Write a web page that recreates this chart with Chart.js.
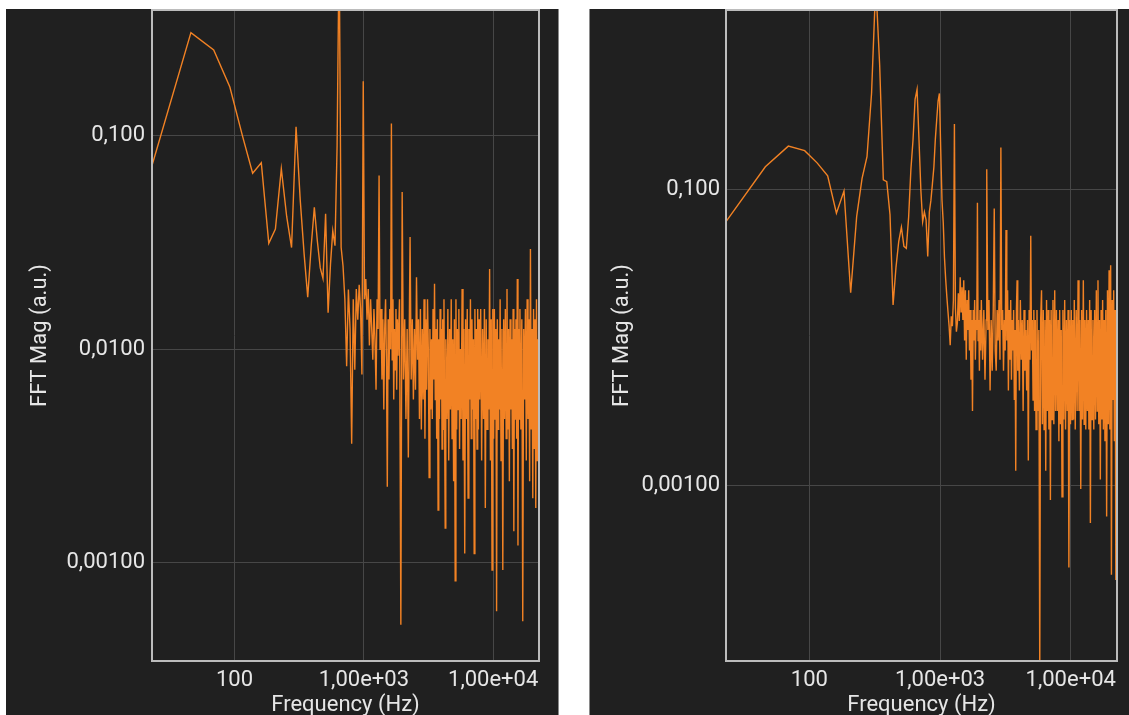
<!DOCTYPE html>
<html>
<head>
<meta charset="utf-8">
<script src="https://cdn.jsdelivr.net/npm/chart.js@4.4.1/dist/chart.umd.min.js"></script>
<style>
  html, body { margin:0; padding:0; background:#ffffff; }
  body { width:1129px; height:715px; position:relative; overflow:hidden; }
  .panel { position:absolute; top:9px; height:706px; background:#202020; }
  #p1 { left:6px; width:552px; border-right:1px solid #8a8a8a; }
  #p2 { left:589px; width:539px; border-left:1px solid #8a8a8a; }
  canvas { display:block; }
</style>
</head>
<body>
<div class="panel" id="p1"><canvas id="c1" width="552" height="706"></canvas></div>
<div class="panel" id="p2"><canvas id="c2" width="539" height="706"></canvas></div>
<script>
// FFT bin width (Hz)
const BIN_HZ = 23;

// Tick values and labels
const xTickValues = [100, 1000, 10000];
const xTickLabels = ['100', '1,00e+03', '1,00e+04'];
const leftYTickValues = [0.1, 0.01, 0.001];
const leftYTickLabels = ['0,100', '0,0100', '0,00100'];
const rightYTickValues = [0.1, 0.001];
const rightYTickLabels = ['0,100', '0,00100'];

// Left spectrum: FFT bin indices and magnitudes (a.u.)
const leftBins = [
  1,2,3,4,5,6,7,8,9,10,
  11,12,13,14,15,16,17,18,19,20,
  21,22,23,24,25,26,27,28,29,30,
  31,32,33,34,35,36,37,38,39,40,
  41,42,43,44,45,46,47,48,49,50,
  51,52,53,54,55,56,57,58,59,60,
  61,62,63,64,65,66,67,68,69,70,
  71,72,73,74,75,76,77,78,79,80,
  82,84,86,88,90,92,94,96,98,99,
  101,103,105,107,109,111,113,115,117,119,
  121,123,125,127,129,131,133,135,137,139,
  141,143,145,147,149,151,153,155,157,159,
  161,163,165,167,169,171,173,175,177,179,
  181,183,185,187,191,194,197,200,203,206,
  209,212,215,218,221,224,227,230,233,236,
  239,242,246,250,254,258,262,266,270,274,
  278,282,286,290,294,298,302,306,310,314,
  318,322,326,330,334,338,342,348,354,360,
  366,372,378,384,390,396,402,408,414,420,
  426,432,438,444,450,456,462,468,474,480,
  486,492,500,508,516,524,532,540,548,556,
  564,572,580,588,596,604,612,620,628,636,
  644,652,660,668,676,684,692,700,712,724,
  736,748,760,772,784,796,808,820,832,844,
  856,868,880,892,904,916,928,940,952,964,
  976,983
];
const leftMag = [
  0.0725,0.304,0.252,0.169,0.100,0.0667,0.0746,0.0313,0.0365,0.070,
  0.0418,0.0299,0.110,0.050,0.028,0.0175,0.030,0.0461,0.032,0.024,
  0.0214,0.0430,0.0148,0.025,0.0358,0.0305,0.09,0.8,0.03,0.0245,
  0.0171,0.0083,0.019,0.0124,0.0036,0.0171,0.008,0.0191,0.0137,0.020,
  0.0154,0.0076,0.18,0.0171,0.0213,0.0137,0.0191,0.0104,0.0171,0.0124,
  0.0089,0.0154,0.0111,0.00645,0.0171,0.0124,0.065,0.0099,0.0154,0.0072,
  0.0138,0.0052,0.0124,0.0171,0.0089,0.00226,0.0138,0.0072,0.0154,0.0100,
  0.114,0.0089,0.0171,0.0058,0.0124,0.0080,0.0154,0.00645,0.0138,0.0093,
  0.0171,0.00051,0.0545,0.0072,0.0138,0.0047,0.0124,0.0031,0.0171,0.0335,
  0.0072,0.0138,0.0058,0.0124,0.00645,0.0217,0.0089,0.0138,0.0047,0.0154,
  0.0042,0.0124,0.0058,0.0171,0.0038,0.0138,0.00645,0.0171,0.0100,0.0025,
  0.0124,0.0052,0.0111,0.0047,0.0154,0.0072,0.0202,0.0058,0.0124,0.0038,
  0.0138,0.00176,0.0111,0.0047,0.0154,0.0058,0.0124,0.0034,0.0138,0.0042,
  0.0171,0.0047,0.00145,0.0111,0.0047,0.0154,0.0030,0.0124,0.0052,0.0171,
  0.0038,0.0111,0.0024,0.0138,0.00082,0.0171,0.0042,0.0124,0.0052,0.0154,
  0.0034,0.0100,0.0047,0.0191,0.0030,0.0124,0.0011,0.0138,0.0047,0.0154,
  0.0020,0.0124,0.0058,0.0171,0.0038,0.0138,0.0052,0.0111,0.0011,0.0154,
  0.0047,0.0124,0.0034,0.0154,0.0042,0.0138,0.0058,0.0154,0.0030,0.0124,
  0.0047,0.0154,0.0018,0.0138,0.0042,0.0111,0.0052,0.0237,0.0030,0.0138,
  0.00092,0.0154,0.0038,0.0154,0.0047,0.0124,0.00059,0.0138,0.0042,0.0111,
  0.0052,0.0171,0.0030,0.0124,0.00092,0.0138,0.0047,0.0154,0.0038,0.0191,
  0.0042,0.0124,0.0024,0.0138,0.0052,0.0111,0.0034,0.0154,0.0014,0.0124,
  0.0047,0.0138,0.0038,0.0213,0.0012,0.0124,0.0047,0.0154,0.0042,0.0138,
  0.00053,0.0124,0.0058,0.0154,0.0030,0.0171,0.0047,0.0138,0.0024,0.0294,
  0.0042,0.0124,0.0020,0.0154,0.0034,0.0138,0.0018,0.0171,0.0030,0.0111,
  0.0042,0.00074
];

// Right spectrum: FFT bin indices and magnitudes (a.u.)
const rightBins = [
  1,2,3,4,5,6,7,8,9,10,
  11,12,13,14,15,16,17,18,19,20,
  21,22,23,24,25,26,27,28,29,30,
  31,32,33,34,35,36,37,38,39,40,
  41,42,43,44,45,46,47,48,49,50,
  51,52,53,54,55,56,57,58,59,60,
  61,62,63,64,65,66,67,68,69,70,
  71,72,73,74,75,76,77,78,79,80,
  81,82,83,84,85,86,87,88,89,90,
  92,94,96,98,99,101,103,105,107,109,
  111,113,115,117,119,121,123,125,127,129,
  131,133,135,137,139,141,143,145,147,149,
  151,153,155,157,159,161,163,165,167,169,
  171,173,176,179,182,185,188,191,194,197,
  200,203,206,209,212,215,218,221,224,227,
  230,233,236,240,244,248,252,256,260,264,
  268,272,276,280,284,288,292,296,300,304,
  308,313,318,323,328,333,338,343,348,353,
  358,363,368,373,379,385,391,397,403,409,
  415,421,427,433,439,445,451,457,463,471,
  479,487,495,503,511,519,527,535,543,551,
  559,567,575,583,591,599,607,615,623,633,
  643,653,663,673,683,693,703,713,723,733,
  743,753,763,773,783,795,807,819,831,843,
  855,867,879,891,903,915,927,939,951,963,
  975,983
];
const rightMag = [
  0.0611,0.1435,0.198,0.1845,0.152,0.1245,0.0697,0.0985,0.0202,0.066,
  0.12,0.168,0.45,2.5,0.7,0.117,0.114,0.068,0.0167,0.030,
  0.045,0.056,0.0416,0.0403,0.066,0.137,0.218,0.41,0.479,0.218,
  0.10,0.061,0.071,0.0627,0.0355,0.071,0.085,0.11,0.143,0.22,
  0.30,0.40,0.45,0.187,0.085,0.06,0.035,0.025,0.019,0.015,
  0.012,0.0089,0.014,0.012,0.018,0.279,0.016,0.011,0.0126,0.020,
  0.013,0.0257,0.015,0.022,0.0132,0.0245,0.0096,0.021,0.0071,0.018,
  0.0113,0.021,0.0082,0.0154,0.0052,0.0132,0.0032,0.0154,0.0096,0.018,
  0.0071,0.0132,0.0113,0.082,0.0096,0.0132,0.0060,0.0154,0.0082,0.018,
  0.0071,0.0154,0.0052,0.0132,0.138,0.0113,0.018,0.0044,0.0132,0.0060,
  0.0154,0.075,0.0082,0.0060,0.0154,0.0096,0.018,0.0071,0.194,0.0113,
  0.0154,0.0060,0.0132,0.0082,0.0537,0.0096,0.021,0.0044,0.0154,0.0071,
  0.018,0.0052,0.0132,0.0082,0.0154,0.0038,0.0113,0.00126,0.0154,0.0245,
  0.0060,0.0132,0.0044,0.018,0.0071,0.0132,0.0032,0.0154,0.0060,0.0113,
  0.0044,0.0132,0.00148,0.0154,0.0071,0.049,0.0082,0.0132,0.0038,0.0154,
  0.0032,0.0132,0.0024,0.0154,0.0032,0.0113,0.00005,0.0132,0.021,0.0026,
  0.0154,0.0024,0.0132,0.00126,0.018,0.0032,0.0154,0.0024,0.0132,0.0008,
  0.0154,0.0028,0.018,0.0026,0.021,0.0032,0.0154,0.0032,0.0132,0.0020,
  0.0154,0.0026,0.0113,0.00084,0.0154,0.0028,0.018,0.0024,0.0132,0.0032,
  0.0154,0.00028,0.0132,0.0026,0.0154,0.0028,0.0132,0.0028,0.018,0.0024,
  0.0154,0.0032,0.0245,0.0032,0.0132,0.00095,0.0154,0.0028,0.0245,0.0026,
  0.0132,0.0024,0.0154,0.0032,0.0132,0.0024,0.018,0.00056,0.0154,0.0028,
  0.0132,0.0024,0.0154,0.0028,0.021,0.0032,0.0245,0.0026,0.0132,0.0011,
  0.0154,0.0028,0.018,0.0024,0.0132,0.0020,0.0154,0.00062,0.021,0.0026,
  0.0287,0.0024,0.031,0.00025,0.018,0.0038,0.021,0.0020,0.0154,0.00023,
  0.0154,0.0004
];

const TEXT = '#e6e6e6';
const GRID = '#474747';
const LINE = 'rgb(242,130,36)';
const FONT = { family: 'Roboto', size: 22 };

const framePlugin = {
  id: 'frame',
  afterDatasetsDraw(chart) {
    const { ctx, chartArea: a } = chart;
    ctx.save();
    ctx.strokeStyle = '#bcbcbc';
    ctx.lineWidth = 2;
    ctx.strokeRect(a.left, a.top, a.right - a.left, a.bottom - a.top);
    ctx.restore();
  }
};

function makeChart(id, bins, mags, cfg) {
  const pts = bins.map((b, i) => ({ x: b * BIN_HZ, y: mags[i] }));
  return new Chart(document.getElementById(id), {
    type: 'line',
    data: { datasets: [{ data: pts, borderColor: LINE, borderWidth: 1.4, pointRadius: 0, tension: 0, fill: false }] },
    options: {
      responsive: false, animation: false, devicePixelRatio: 1,
      layout: { padding: { left: 0, top: 1, right: cfg.padRight, bottom: 0 } },
      plugins: { legend: { display: false }, tooltip: { enabled: false } },
      scales: {
        x: {
          type: 'logarithmic', min: 23, max: 22609, bounds: 'data',
          afterBuildTicks: s => { s.ticks = xTickValues.map(v => ({ value: v })); s.min = 23; s.max = 22609; },
          afterFit: s => { s.height = 54; s.paddingLeft = 0; s.paddingRight = 0; },
          ticks: { autoSkip: false, maxRotation: 0, color: TEXT, font: FONT, padding: 6,
                   callback: (v, i) => xTickLabels[i] },
          grid: { color: GRID, lineWidth: 1, drawTicks: false },
          border: { display: false },
          title: { display: true, text: 'Frequency (Hz)', color: TEXT, font: FONT, padding: { top: 0, bottom: -4 } }
        },
        y: {
          type: 'logarithmic', min: cfg.yMin, max: cfg.yMax, bounds: 'data',
          afterBuildTicks: s => { s.ticks = cfg.yTicks.map(v => ({ value: v })); s.min = cfg.yMin; s.max = cfg.yMax; },
          afterFit: s => { s.width = cfg.yWidth; s.paddingTop = 0; s.paddingBottom = 0; },
          ticks: { autoSkip: false, color: TEXT, font: FONT, padding: cfg.tickPad,
                   callback: (v, i) => cfg.yLabels[i] },
          grid: { color: GRID, lineWidth: 1, drawTicks: false },
          border: { display: false },
          title: { display: true, text: 'FFT Mag (a.u.)', color: TEXT, font: FONT, padding: { top: cfg.titlePad, bottom: 0 } }
        }
      }
    },
    plugins: [framePlugin]
  });
}

makeChart('c1', leftBins, leftMag, {
  padRight: 19, yMin: 0.000345, yMax: 0.388, yWidth: 146, tickPad: 7, titlePad: 21,
  yTicks: leftYTickValues, yLabels: leftYTickLabels
});
makeChart('c2', rightBins, rightMag, {
  padRight: 12, yMin: 0.0000652, yMax: 1.65, yWidth: 136, tickPad: 6, titlePad: 19,
  yTicks: rightYTickValues, yLabels: rightYTickLabels
});
</script>
</body>
</html>
